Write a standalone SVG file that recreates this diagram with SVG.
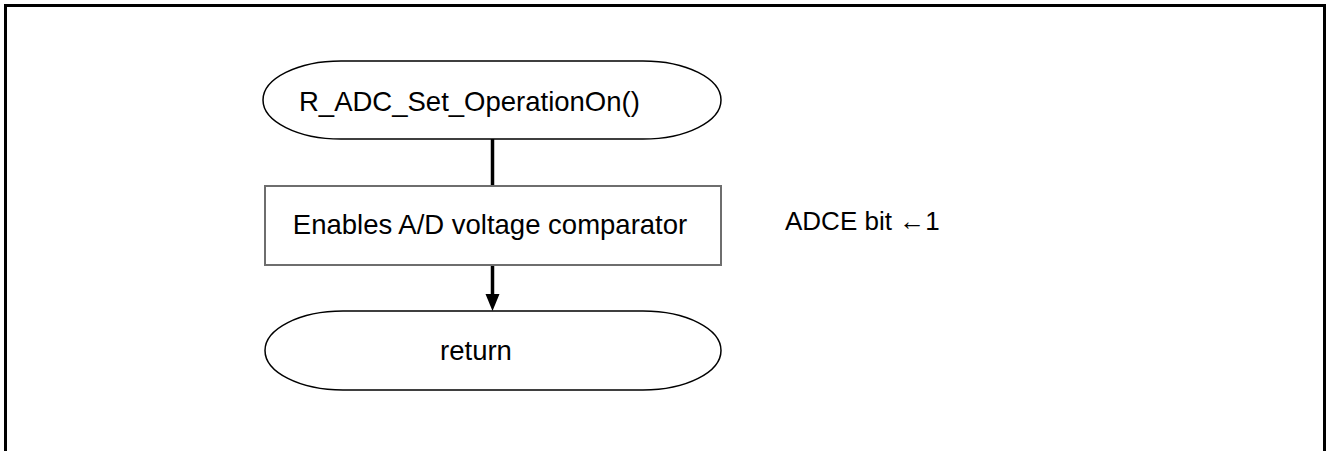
<svg xmlns="http://www.w3.org/2000/svg" width="1328" height="451" viewBox="0 0 1328 451">
<style>
.t{font-family:"Liberation Sans",Arial,sans-serif;font-size:27.5px;fill:#000}
.n{font-family:"Liberation Sans",Arial,sans-serif;font-size:26px;fill:#000}
.term{fill:#fff;stroke:#000;stroke-width:1.5}
.proc{fill:#fff;stroke:#6e6e6e;stroke-width:2}
.conn{stroke:#000;stroke-width:3.5;fill:none}
</style>
<rect width="1328" height="451" fill="#fff"/>
<path d="M5.5,455 V5.5 H1324.5 V455" fill="none" stroke="#000" stroke-width="3"/>
<g id="connectors">
<line class="conn" x1="492.5" y1="139" x2="492.5" y2="186"/>
<line class="conn" x1="492.5" y1="265" x2="492.5" y2="296"/>
<polygon points="485.5,294 499.5,294 492.5,311" fill="#000"/>
</g>
<g id="start">
<rect class="term" x="263" y="61" width="458" height="78" rx="78" ry="39"/>
<text class="t" x="299" y="111">R_ADC_Set_OperationOn()</text>
</g>
<g id="enable">
<rect class="proc" x="265" y="186" width="456" height="79"/>
<text class="t" x="490" y="234" text-anchor="middle">Enables A/D voltage comparator</text>
</g>
<g id="note">
<text class="n" x="785" y="230">ADCE bit ←1</text>
</g>
<g id="return">
<rect class="term" x="265" y="311" width="456" height="79" rx="78" ry="39.5"/>
<text class="t" x="476" y="360" text-anchor="middle">return</text>
</g>
</svg>
